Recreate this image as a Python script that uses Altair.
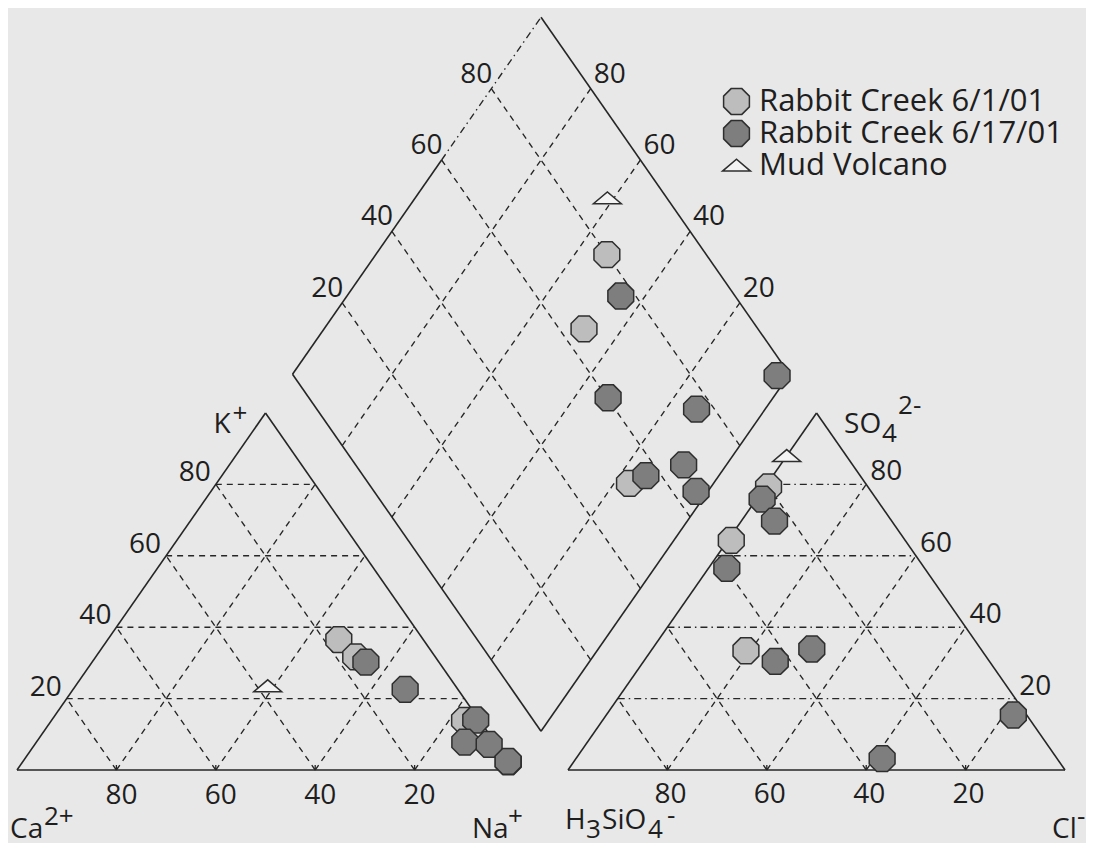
import altair as alt
import pandas as pd

# ---------------- data (percent) ----------------
series_names = ["Rabbit Creek 6/1/01", "Rabbit Creek 6/17/01", "Mud Volcano"]
sample = [series_names[0]] * 3 + [series_names[1]] * 7 + [series_names[2]]
ca     = [17.0, 16.0, 3.0, 14.7, 10.6, 0.7, 6.0, 1.4, 0.0, 0.0, 37.8]
k      = [36.5, 31.7, 13.9, 30.2, 22.6, 14.0, 7.8, 7.2, 2.3, 2.4, 23.5]
na     = [46.5, 52.3, 83.1, 55.1, 66.8, 85.3, 86.2, 91.4, 97.7, 97.6, 38.7]
h3sio4 = [20.0, 35.0, 47.5, 23.0, 39.8, 43.1, 23.6, 34.0, 2.7, 35.2, 12.0]
so4    = [79.3, 64.3, 33.4, 75.9, 56.5, 30.4, 69.7, 33.9, 15.4, 3.2, 88.0]
cl     = [0.7, 0.7, 19.1, 1.1, 3.7, 26.5, 6.7, 32.1, 81.9, 61.6, 0.0]

grid_levels = [20, 40, 60, 80]
tick_text = ["20", "40", "60", "80"]

# ---------------- geometry of the Piper diagram ----------------
G = 0.1087                 # gap between the triangles (in triangle sides)
PX, PY = 497.0, 357.0      # pixels per side / per triangle height
W, H = 1078, 835
ORX, ORY = 9.0, 762.0      # chart pixel of the Ca2+ corner
X_DOM = [-ORX / PX, (W - ORX) / PX]
Y_DOM = [(ORY - H) / PY, ORY / PY]
OX = 1 + G
Bx, By = 1 + G / 2, G
Lx, Ly = 0.5 + G / 2, 1 + G
Tx, Ty = 1 + G / 2, 2 + G
Rx, Ry = 1.5 + G / 2, 1 + G


def off(x, y, dxp, dyp):
    """data point shifted by a pixel offset (dyp positive = downwards)"""
    return x + dxp / PX, y - dyp / PY


def seg(x1, y1, x2, y2):
    return dict(x=x1, y=y1, x2=x2, y2=y2)


solid = [
    seg(0, 0, 1, 0), seg(1, 0, 0.5, 1), seg(0.5, 1, 0, 0),
    seg(OX, 0, OX + 1, 0), seg(OX + 1, 0, OX + 0.5, 1), seg(OX + 0.5, 1, OX, 0),
    seg(Bx, By, Lx, Ly), seg(Bx, By, Rx, Ry), seg(Tx, Ty, Rx, Ry),
    seg(Lx, Ly, Lx + 0.6 * (Tx - Lx), Ly + 0.6 * (Ty - Ly)),
]
dashdot = [seg(Lx + 0.6 * (Tx - Lx), Ly + 0.6 * (Ty - Ly), Tx, Ty)]
dash = []
ticks = []
TK = 5 / PY
for v in grid_levels:
    f = v / 100
    dash += [seg(f / 2, f, 1 - f / 2, f),
             seg(1 - f, 0, (1 - f) / 2, 1 - f),
             seg(f, 0, f + (1 - f) / 2, 1 - f)]
    dashdot.append(seg(OX + f / 2, f, OX + 1 - f / 2, f))
    dash += [seg(OX + 1 - f, 0, OX + (1 - f) / 2, 1 - f),
             seg(OX + f, 0, OX + f + (1 - f) / 2, 1 - f)]
    sx, sy = Bx - 0.5 * (1 - f), By + (1 - f)
    dash.append(seg(sx, sy, sx + 0.5, sy + 1))
    sx, sy = Bx + 0.5 * (1 - f), By + (1 - f)
    dash.append(seg(sx, sy, sx - 0.5, sy + 1))
    ticks += [seg(f, 0, f, TK), seg(OX + f, 0, OX + f, TK)]

# ---------------- tick labels ----------------
lab_c, lab_r, lab_l = [], [], []
for v, t in zip(grid_levels, tick_text):
    f = v / 100
    x, y = off(1 - f, 0, 5, 34); lab_c.append(dict(x=x, y=y, t=t, fs=28))
    x, y = off(OX + 1 - f, 0, 3, 33); lab_c.append(dict(x=x, y=y, t=t, fs=28))
    x, y = off(f / 2, f, -5, -3); lab_r.append(dict(x=x, y=y, t=t, fs=28))
    x, y = off(OX + 1 - f / 2, f, 4, -4); lab_l.append(dict(x=x, y=y, t=t, fs=28))
    x, y = off(Lx + f * (Tx - Lx), Ly + f * (Ty - Ly), 1, -6); lab_r.append(dict(x=x, y=y, t=t, fs=28))
    x, y = off(Tx + (1 - f) * (Rx - Tx), Ty + (1 - f) * (Ry - Ty), 3, -6); lab_l.append(dict(x=x, y=y, t=t, fs=28))

# corner labels: (text, anchor, dx px, dy px, font size)
corner = [
    ("Ca", (0, 0), -7, 68, 28), ("2+", (0, 0), 27, 55, 26),
    ("Na", (1, 0), -42, 68, 28), ("+", (1, 0), -6, 55, 26),
    ("K", (0.5, 1), -52, 20, 28), ("+", (0.5, 1), -33, 9, 26),
    ("H", (OX, 0), -3, 59, 28), ("3", (OX, 0), 18, 68, 26),
    ("SiO", (OX, 0), 34, 59, 28), ("4", (OX, 0), 80, 68, 26), ("-", (OX, 0), 99, 54, 26),
    ("Cl", (OX + 1, 0), -13, 68, 28), ("-", (OX + 1, 0), 12, 55, 26),
    ("SO", (OX + 0.5, 1), 27.5, 20, 28), ("4", (OX + 0.5, 1), 65.5, 29, 26),
    ("2-", (OX + 0.5, 1), 81.5, 1, 26),
]
for t, (ax, ay), dxp, dyp, fs in corner:
    x, y = off(ax, ay, dxp, dyp)
    lab_l.append(dict(x=x, y=y, t=t, fs=fs))

# ---------------- sample points ----------------
order_of = {series_names[0]: 0, series_names[1]: 1, series_names[2]: 2}
pts = []
for i, s in enumerate(sample):
    o = order_of[s]
    pts.append(dict(sample=s, ord=o, x=na[i] / 100 + k[i] / 200, y=k[i] / 100))
    pts.append(dict(sample=s, ord=o, x=OX + cl[i] / 100 + so4[i] / 200, y=so4[i] / 100))
    pts.append(dict(sample=s, ord=o, x=Bx + 0.5 * (na[i] - h3sio4[i]) / 100,
                    y=By + 2 - (na[i] + h3sio4[i]) / 100))
pts_df = pd.DataFrame(pts)

OCT = ("M-0.383,-0.924L0.383,-0.924L0.924,-0.383L0.924,0.383L0.383,0.924"
       "L-0.383,0.924L-0.924,0.383L-0.924,-0.383Z")
TRI = "M-1,0.4L1,0.4L0,-0.45Z"

xs = alt.Scale(domain=X_DOM, nice=False, zero=False)
ys = alt.Scale(domain=Y_DOM, nice=False, zero=False)
X = alt.X("x:Q", scale=xs, axis=None)
Y = alt.Y("y:Q", scale=ys, axis=None)
INK = "#1e1e1e"
EDGE = "#2e2e2e"


def rules(rows, width, dashpat=None):
    kw = dict(color="#262626", strokeWidth=width, strokeCap="butt")
    if dashpat:
        kw["strokeDash"] = dashpat
    return alt.Chart(pd.DataFrame(rows)).mark_rule(**kw).encode(x=X, y=Y, x2="x2:Q", y2="y2:Q")


def texts(rows, align):
    return alt.Chart(pd.DataFrame(rows)).mark_text(
        align=align, baseline="alphabetic", font="Open Sans", color=INK
    ).encode(x=X, y=Y, text="t:N", size=alt.Size("fs:Q", scale=None, legend=None))


leg = alt.Legend(title=None, orient="none", legendX=713, legendY=78,
                 labelFontSize=31, labelFont="Open Sans", labelColor=INK,
                 labelLimit=600, symbolStrokeWidth=1.5,
                 rowPadding=-8, labelOffset=7, padding=0)

points = alt.Chart(pts_df).mark_point(
    filled=False, opacity=1, fillOpacity=1, strokeWidth=1.5
).encode(
    x=X, y=Y,
    shape=alt.Shape("sample:N", scale=alt.Scale(domain=series_names, range=[OCT, OCT, TRI]), legend=leg),
    fill=alt.Fill("sample:N", scale=alt.Scale(domain=series_names, range=["#bdbdbd", "#7e7e7e", "#f3f3f3"]), legend=leg),
    stroke=alt.Stroke("sample:N", scale=alt.Scale(domain=series_names, range=[EDGE, EDGE, EDGE]), legend=leg),
    size=alt.Size("sample:N", scale=alt.Scale(domain=series_names, range=[780, 780, 600]), legend=leg),
    order=alt.Order("ord:Q"),
)

chart = alt.layer(
    rules(dash, 1.35, [6, 5]),
    rules(dashdot, 1.35, [7, 4, 1.5, 4]),
    rules(ticks, 1.3),
    rules(solid, 1.6),
    points,
    texts(lab_c, "center"),
    texts(lab_r, "right"),
    texts(lab_l, "left"),
).properties(
    width=W, height=H, background="#e8e8e8", padding=0,
    autosize=alt.AutoSizeParams(type="none"),
).configure_view(stroke=None)

chart.save("out.html", embed_options={"renderer": "svg", "actions": False})
